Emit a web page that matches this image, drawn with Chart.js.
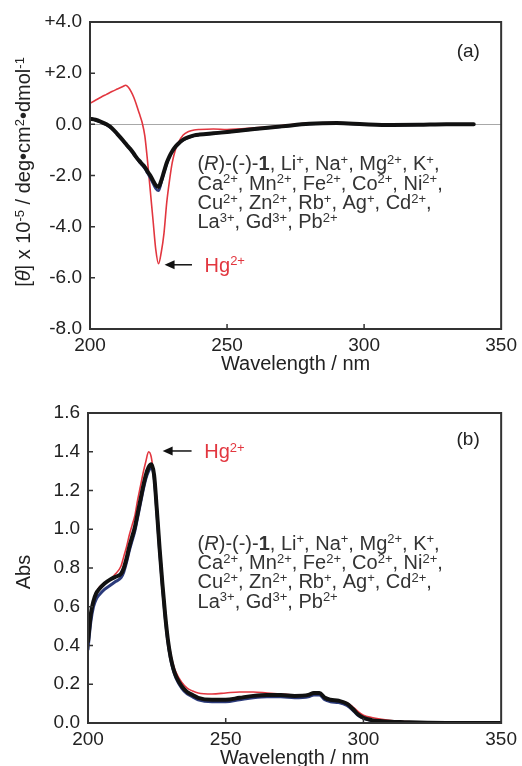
<!DOCTYPE html>
<html>
<head>
<meta charset="utf-8">
<script src="https://cdn.jsdelivr.net/npm/chart.js@4.4.0/dist/chart.umd.min.js"></script>
<style>
  html, body { margin: 0; padding: 0; background: #fff; }
  .panel { position: absolute; left: 0; }
</style>
</head>
<body>
<div class="panel" style="top:0"><canvas id="cdChart" width="522" height="380"></canvas></div>
<div class="panel" style="top:380px"><canvas id="absChart" width="522" height="386"></canvas></div>
<script>
// (a) CD spectra, [theta] x 10^-5
var cdWl = [200, 202, 204, 206, 208, 210, 212, 213, 214, 215, 216, 217, 218, 219, 220, 221, 222, 223, 224, 225,
            226, 227, 228, 229, 230, 231, 232, 234, 236, 238, 240, 245, 250, 260, 270, 280, 290, 300, 310, 320, 330, 340];
var cdBlack = [0.22, 0.18, 0.10, 0.0, -0.15, -0.38, -0.62, -0.75, -0.88, -1.0, -1.15, -1.3, -1.43, -1.55, -1.67, -1.85, -2.0, -2.2, -2.38, -2.45,
               -2.2, -1.85, -1.5, -1.25, -1.05, -0.9, -0.78, -0.6, -0.5, -0.43, -0.4, -0.35, -0.3, -0.18, -0.08, 0.02, 0.05, 0.0, -0.03, -0.02, 0.0, 0.0];
var cdBlue = [0.2, 0.16, 0.08, -0.02, -0.17, -0.4, -0.65, -0.78, -0.9, -1.03, -1.18, -1.33, -1.47, -1.6, -1.73, -1.92, -2.1, -2.32, -2.52, -2.6,
              -2.3, -1.9, -1.55, -1.28, -1.07, -0.92, -0.8, -0.62, -0.52, -0.45, -0.41, -0.36, -0.31, -0.19, -0.09, 0.01, 0.04, 0.0, -0.03, -0.02, 0.0, 0.0];
var cdRed = [0.82, 0.94, 1.06, 1.17, 1.28, 1.38, 1.48, 1.53, 1.45, 1.28, 1.05, 0.75, 0.42, 0.08, -0.45, -1.45, -2.6, -3.75, -4.9, -5.45,
             -5.0, -4.25, -3.05, -2.2, -1.5, -1.05, -0.76, -0.42, -0.28, -0.22, -0.2, -0.18, -0.2, -0.14, -0.05, 0.05, 0.07, 0.0, -0.02, -0.02, 0.0, 0.0];

// (b) UV-vis absorption
var absWl = [200, 201, 202, 203, 204, 206, 208, 210, 212, 213, 214, 215, 216, 217, 218, 219, 220, 221, 222, 223,
             224, 225, 226, 227, 228, 229, 230, 231, 232, 234, 236, 238, 240, 245, 250, 255, 260, 265, 270, 275,
             280, 282, 284, 286, 288, 291, 294, 296, 298, 300, 303, 306, 310, 315, 320, 330, 340, 350];
var absBlack = [0.42, 0.56, 0.63, 0.67, 0.69, 0.72, 0.74, 0.755, 0.77, 0.80, 0.85, 0.91, 0.96, 1.01, 1.08, 1.15, 1.22, 1.28, 1.32, 1.335,
                1.28, 1.10, 0.90, 0.72, 0.56, 0.43, 0.34, 0.28, 0.24, 0.19, 0.16, 0.145, 0.13, 0.12, 0.12, 0.13, 0.14, 0.145, 0.145, 0.14,
                0.145, 0.155, 0.155, 0.13, 0.12, 0.115, 0.10, 0.075, 0.045, 0.027, 0.015, 0.01, 0.006, 0.004, 0.002, 0.0, 0.0, 0.0];
var absBlue = [0.38, 0.52, 0.6, 0.64, 0.66, 0.69, 0.71, 0.73, 0.75, 0.78, 0.83, 0.89, 0.94, 0.99, 1.06, 1.13, 1.2, 1.26, 1.3, 1.32,
               1.27, 1.09, 0.89, 0.71, 0.55, 0.42, 0.33, 0.27, 0.23, 0.18, 0.15, 0.135, 0.12, 0.11, 0.11, 0.12, 0.13, 0.135, 0.135, 0.13,
               0.135, 0.145, 0.145, 0.12, 0.11, 0.105, 0.09, 0.068, 0.04, 0.024, 0.013, 0.008, 0.005, 0.003, 0.001, 0.0, 0.0, 0.0];
var absRed = [0.42, 0.56, 0.63, 0.67, 0.70, 0.72, 0.74, 0.77, 0.81, 0.86, 0.91, 0.97, 1.02, 1.07, 1.15, 1.22, 1.29, 1.35, 1.40, 1.37,
              1.26, 1.10, 0.92, 0.74, 0.58, 0.45, 0.36, 0.30, 0.26, 0.21, 0.18, 0.165, 0.155, 0.15, 0.155, 0.16, 0.16, 0.155, 0.15, 0.145,
              0.145, 0.155, 0.155, 0.135, 0.12, 0.115, 0.105, 0.085, 0.06, 0.04, 0.028, 0.02, 0.013, 0.008, 0.005, 0.002, 0.001, 0.0];

var xTicks = [200, 250, 300, 350];
var ionLines = [
    "(*{R})-(-)-#{1}, Li^{+}, Na^{+}, Mg^{2+}, K^{+},",
    "Ca^{2+}, Mn^{2+}, Fe^{2+}, Co^{2+}, Ni^{2+},",
    "Cu^{2+}, Zn^{2+}, Rb^{+}, Ag^{+}, Cd^{2+},",
    "La^{3+}, Gd^{3+}, Pb^{2+}"
];

var FAM = "'Liberation Sans', Arial, sans-serif";
var RED = '#e2363f';
Chart.defaults.font.family = FAM;
Chart.defaults.font.size = 19;
Chart.defaults.color = '#222';

function pts(xs, ys) {
    return xs.map(function(x, i) { return { x: x, y: ys[i] }; });
}

// tiny rich text: *{} italic, #{} bold, ^{} superscript
function parseRich(str) {
    var segs = [];
    str.split(/([\*#\^]\{[^}]*\})/).forEach(function(p) {
        if (!p) return;
        var m = p.match(/^([\*#\^])\{([^}]*)\}$/);
        if (m) segs.push({ t: m[2], s: m[1] });
        else segs.push({ t: p, s: '' });
    });
    return segs;
}
function fontFor(s, size) {
    if (s === '^') return Math.round(size * 0.64) + 'px ' + FAM;
    if (s === '*') return 'italic ' + size + 'px ' + FAM;
    if (s === '#') return 'bold ' + size + 'px ' + FAM;
    return size + 'px ' + FAM;
}
function drawRich(ctx, str, x, y, size, color, align) {
    var segs = parseRich(str), w = 0;
    segs.forEach(function(sg) { ctx.font = fontFor(sg.s, size); sg.w = ctx.measureText(sg.t).width; w += sg.w; });
    var cx = align === 'center' ? x - w / 2 : x;
    ctx.fillStyle = color;
    ctx.textAlign = 'left';
    ctx.textBaseline = 'alphabetic';
    segs.forEach(function(sg) {
        ctx.font = fontFor(sg.s, size);
        ctx.fillText(sg.t, cx, sg.s === '^' ? y - size * 0.32 : y);
        cx += sg.w;
    });
}

var decor = {
    id: 'decor',
    afterDatasetsDraw: function(chart, args, o) {
        var ctx = chart.ctx, a = chart.chartArea, xs = chart.scales.x, ys = chart.scales.y;
        ctx.save();
        // frame
        ctx.strokeStyle = '#333';
        ctx.lineWidth = 2;
        ctx.strokeRect(a.left, a.top, a.right - a.left, a.bottom - a.top);
        // inward ticks
        ctx.lineWidth = 1.5;
        ctx.beginPath();
        xs.ticks.forEach(function(t) {
            if (t.value > xs.min && t.value < xs.max) {
                var px = xs.getPixelForValue(t.value);
                ctx.moveTo(px, a.bottom); ctx.lineTo(px, a.bottom - 5);
            }
        });
        ys.ticks.forEach(function(t) {
            if (t.value > ys.min && t.value < ys.max) {
                var py = ys.getPixelForValue(t.value);
                ctx.moveTo(a.left, py); ctx.lineTo(a.left + 5, py);
            }
        });
        ctx.stroke();

        // panel letter
        drawRich(ctx, o.letter[0], xs.getPixelForValue(o.letter[1]), ys.getPixelForValue(o.letter[2]) + 7, 19, '#222', 'center');

        // ion list
        var lx = xs.getPixelForValue(o.ions[0]), ly = ys.getPixelForValue(o.ions[1]) + 7;
        ionLines.forEach(function(line, i) { drawRich(ctx, line, lx, ly + i * 19.3, 20, '#333', 'left'); });

        // Hg2+ arrow + label
        var hy = ys.getPixelForValue(o.hg[2]);
        var hx = xs.getPixelForValue(o.hg[0]), tx = xs.getPixelForValue(o.hg[1]);
        ctx.strokeStyle = '#111';
        ctx.fillStyle = '#111';
        ctx.lineWidth = 1.5;
        ctx.beginPath(); ctx.moveTo(hx + 6, hy); ctx.lineTo(tx, hy); ctx.stroke();
        ctx.beginPath(); ctx.moveTo(hx, hy); ctx.lineTo(hx + 10, hy - 4.5); ctx.lineTo(hx + 10, hy + 4.5); ctx.closePath(); ctx.fill();
        drawRich(ctx, 'Hg^{2+}', xs.getPixelForValue(o.hg[3]), hy + 7, 20, RED, 'left');

        // axis titles
        drawRich(ctx, 'Wavelength / nm', (a.left + a.right) / 2, a.bottom + o.xTitleDy + 7, 20, '#222', 'center');
        ctx.translate(o.yTitle[1], o.yTitle[2]);
        ctx.rotate(-Math.PI / 2);
        drawRich(ctx, o.yTitle[0], 0, 7, 20, '#222', 'center');
        ctx.restore();
    }
};

function makeChart(id, sets, yOpts, layout, annot) {
    return new Chart(document.getElementById(id).getContext('2d'), {
        type: 'line',
        data: { datasets: sets },
        options: {
            responsive: false,
            animation: false,
            layout: { padding: { top: layout.top, right: 19, left: 0, bottom: 0 } },
            elements: { point: { radius: 0 }, line: { cubicInterpolationMode: 'monotone', borderCapStyle: 'round', borderJoinStyle: 'round' } },
            plugins: { legend: { display: false }, tooltip: { enabled: false }, decor: annot },
            scales: {
                x: {
                    type: 'linear', min: 200, max: 350,
                    afterBuildTicks: function(s) { s.ticks = xTicks.map(function(v) { return { value: v }; }); },
                    afterFit: function(s) { s.height = layout.xh; },
                    grid: { display: false, drawTicks: false },
                    border: { display: false },
                    ticks: { padding: 5, maxRotation: 0, color: '#222', callback: function(v) { return v; } }
                },
                y: yOpts
            }
        },
        plugins: [decor]
    });
}

// (a) CD
makeChart('cdChart', [
    { data: pts(cdWl, cdBlack), borderColor: '#111', borderWidth: 4 },
    { data: pts(cdWl, cdBlue), borderColor: '#2b3a7a', borderWidth: 2.5 },
    { data: pts(cdWl, cdRed), borderColor: RED, borderWidth: 1.6 }
], {
    min: -8, max: 4,
    afterFit: function(s) { s.width = 90; },
    grid: { drawTicks: false, color: function(c) { return c.tick && c.tick.value === 0 ? '#a8a8a8' : 'rgba(0,0,0,0)'; }, lineWidth: 1 },
    border: { display: false },
    ticks: { stepSize: 2, padding: 8, color: '#222', callback: function(v) { return (v > 0 ? '+' : '') + v.toFixed(1); } }
}, { top: 22, xh: 51 }, {
    letter: ['(a)', 338, 2.9],
    ions: [239.2, -1.53],
    hg: [227.2, 237.2, -5.49, 241.8],
    xTitleDy: 34,
    yTitle: ['[*{θ}] x 10^{-5} / deg•cm^{2}•dmol^{-1}', 23, 172]
});

// (b) absorption
makeChart('absChart', [
    { data: pts(absWl, absBlack), borderColor: '#111', borderWidth: 4 },
    { data: pts(absWl, absBlue), borderColor: '#2b3a7a', borderWidth: 3 },
    { data: pts(absWl, absRed), borderColor: RED, borderWidth: 1.6 }
], {
    min: 0, max: 1.6,
    afterFit: function(s) { s.width = 88; },
    grid: { display: false, drawTicks: false },
    border: { display: false },
    ticks: { stepSize: 0.2, padding: 8, color: '#222', callback: function(v) { return v.toFixed(1); } }
}, { top: 33, xh: 43 }, {
    letter: ['(b)', 338, 1.47],
    ions: [239.8, 0.93],
    hg: [227.1, 237.6, 1.404, 242.2],
    xTitleDy: 34,
    yTitle: ['Abs', 23, 192]
});
</script>
</body>
</html>
